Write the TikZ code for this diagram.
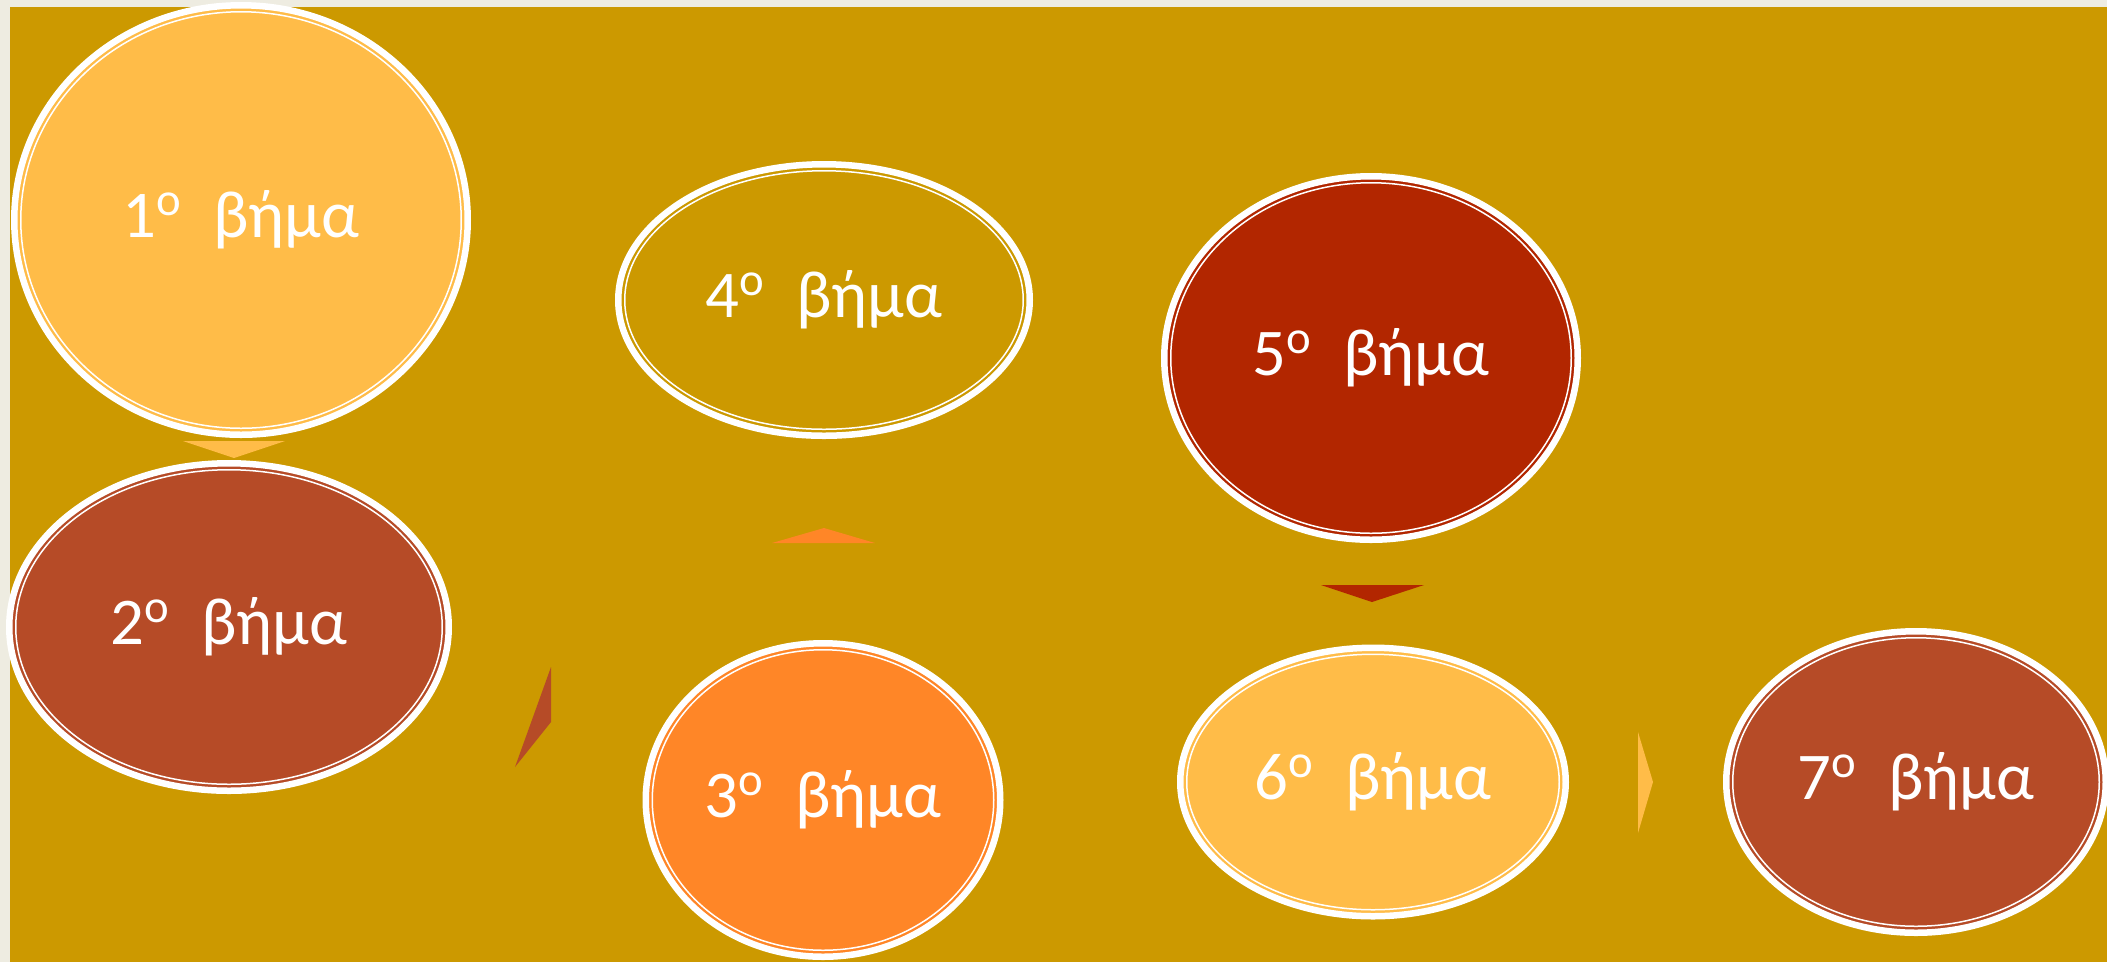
\documentclass[tikz,border=0pt]{standalone}
\usepackage{fontspec}
\setmainfont{Carlito}
\usetikzlibrary{shapes.geometric,calc}
\definecolor{gold}{HTML}{CC9900}
\definecolor{paper}{HTML}{EEECE1}
\definecolor{amber}{HTML}{FFBC48}
\definecolor{rust}{HTML}{B64B27}
\definecolor{tangerine}{HTML}{FF8627}
\definecolor{crimson}{HTML}{B22600}
\tikzset{
	stepnode/.style={ellipse, draw=white, line width=0.65mm, inner sep=0pt, text=white, font=\fontsize{19}{23}\selectfont},
	ring/.style={draw=white, line width=0.15mm}
}

\begin{document}
\begin{tikzpicture}[x=0.1mm, y=-0.1mm]
	\useasboundingbox (0,0) rectangle (2107,962);
	\clip (0,0) rectangle (2107,962);
	\fill[paper] (0,0) rectangle (2107,962);
	\fill[gold] (10,7) rectangle (2107,962);

	\node[stepnode, fill=amber, minimum width=45.35mm, minimum height=42.95mm] (s1) at (241,220) {1\textsuperscript{ο}~~βήμα};
	\node[stepnode, fill=rust, minimum width=43.95mm, minimum height=32.75mm] (s2) at (229,627) {2\textsuperscript{ο}~~βήμα};
	\node[stepnode, fill=tangerine, minimum width=35.45mm, minimum height=31.35mm] (s3) at (823,800) {3\textsuperscript{ο}~~βήμα};
	\node[stepnode, minimum width=41.15mm, minimum height=27.15mm] (s4) at (824,300) {4\textsuperscript{ο}~~βήμα};
	\node[stepnode, fill=crimson, minimum width=41.35mm, minimum height=36.35mm] (s5) at (1371,358) {5\textsuperscript{ο}~~βήμα};
	\node[stepnode, fill=amber, minimum width=38.55mm, minimum height=26.85mm] (s6) at (1373,782) {6\textsuperscript{ο}~~βήμα};
	\node[stepnode, fill=rust, minimum width=37.95mm, minimum height=30.15mm] (s7) at (1916,782) {7\textsuperscript{ο}~~βήμα};

	\foreach \i in {1,...,7}
		\draw[ring] let \p1=($(s\i.east)-(s\i.center)$), \p2=($(s\i.north)-(s\i.center)$) in
			(s\i.center) ellipse [x radius=\x1-0.975mm, y radius=\y2-0.975mm];

	\fill[amber] (183,441) -- (285,441) -- (234,458) -- cycle;
	\fill[rust] (551,667) -- (551,722) -- (515,767) -- cycle;
	\fill[tangerine] (772,543) -- (875,543) -- (824,528) -- cycle;
	\fill[crimson] (1321,585) -- (1424,585) -- (1372,602) -- cycle;
	\fill[amber] (1638,732) -- (1653,782) -- (1638,833) -- cycle;
\end{tikzpicture}
\end{document}
